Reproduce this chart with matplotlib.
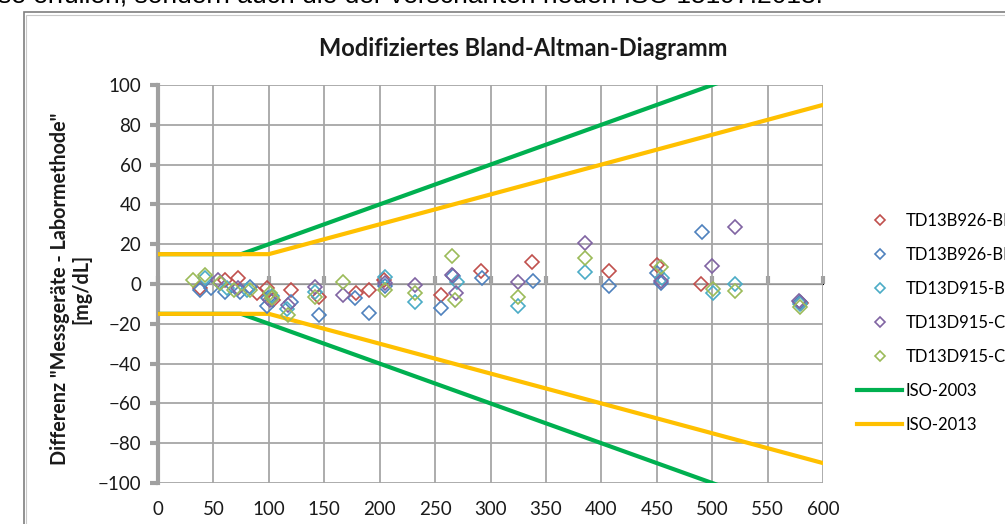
import matplotlib
matplotlib.use("Agg")
import matplotlib.pyplot as plt
from matplotlib.patches import Rectangle

plt.rcParams['font.family'] = ['Lato', 'DejaVu Sans']

# Messwerte: x = Labormethode [mg/dL], y = Differenz Messgerät - Labormethode
red_x = [38, 60, 72, 89, 98, 104, 120, 145, 179, 190, 204, 255, 291, 337, 407, 450, 490, 580]
red_y = [-2, 2, 3, -4.5, -2, -8, -3, -6.4, -4.5, -3, 2, -5.5, 6.5, 11, 6.5, 9.5, -0.2, -9.5]

blue_x = [38, 48, 60, 74, 83, 99, 98, 120, 145, 178, 190, 205, 255, 266, 292, 338, 407, 450, 454, 491, 579]
blue_y = [-3, -2, -4, -4, -1.5, -7, -11, -9, -15.6, -7, -14.7, -1, -12, 4, 3, 1.5, -0.8, 5.4, 0.3, 26, -9]

cyan_x = [42, 62, 80, 103, 116, 142, 205, 232, 270, 325, 385, 455, 501, 521, 579]
cyan_y = [3, -2, -3, -6, -12.5, -4, 3.7, -9, 1, -11, 6.2, 3, -4.7, 0, -10]

purple_x = [54, 72, 101, 117, 141.5, 167, 205, 232, 265, 269, 325, 385, 454, 500, 521, 578]
purple_y = [2, -2, -8, -10.5, -1.3, -5.5, 0.5, -0.5, 4.5, -4.6, 1.2, 20.8, 1.7, 9, 28.8, -8.5]

green_x = [32, 42, 56, 69, 83, 101, 103, 117, 141.5, 167, 205, 232, 265, 268, 325, 385, 454, 501, 521, 579]
green_y = [2, 4.5, 0.5, -3, -3, -4.5, -7, -15.5, -6.4, 1.2, -3, -4.5, 14, -8, -6.4, 12.9, 8.7, -2.5, -3.5, -11.4]

series = [
    ("TD13B926-BFG", red_x, red_y, "#C0504D"),
    ("TD13B926-BFE", blue_x, blue_y, "#4F81BD"),
    ("TD13D915-BFE", cyan_x, cyan_y, "#4BACC6"),
    ("TD13D915-CEG", purple_x, purple_y, "#8064A2"),
    ("TD13D915-CEE", green_x, green_y, "#9BBB59"),
]

# Grenzen
iso2003_x = [0, 75, 600]
iso2003_y = [15, 15, 120]
iso2013_x = [0, 100, 600]
iso2013_y = [15, 15, 90]

fig = plt.figure(figsize=(10.05, 5.24), dpi=100)

# Text vom Dokument oben (abgeschnitten) und Diagrammrahmen
fig.text(-0.002, 1 - 3 / 524, "se erfüllen, sondern auch die der verschärften neuen ISO 15197:2013.",
         fontsize=19, family='Liberation Sans', va='baseline', ha='left', color='black')
fig.patches.append(Rectangle((24 / 1005, -0.1), 1.1, 1.1 - 12 / 524, transform=fig.transFigure,
                             fill=False, edgecolor='#7F7F7F', linewidth=1.2))
fig.patches.append(Rectangle((26 / 1005, -0.1), 1.1, 1.1 - 14.5 / 524, transform=fig.transFigure,
                             fill=False, edgecolor='#C8C8C8', linewidth=0.8))

ax = fig.add_axes([158 / 1005, 1 - 483 / 524, 665 / 1005, 398 / 524])

for name, xs, ys, c in series:
    ax.plot(xs, ys, linestyle='none', marker='D', markersize=7.3, markerfacecolor='none',
            markeredgecolor=c, markeredgewidth=1.2, label=name, zorder=4)

ax.plot(iso2003_x, iso2003_y, color='#00B050', lw=3, label='ISO-2003', zorder=3)
ax.plot(iso2003_x, [-v for v in iso2003_y], color='#00B050', lw=3, zorder=3)
ax.plot(iso2013_x, iso2013_y, color='#FFC000', lw=3, label='ISO-2013', zorder=3)
ax.plot(iso2013_x, [-v for v in iso2013_y], color='#FFC000', lw=3, zorder=3)

ax.set_xlim(0, 600)
ax.set_ylim(-100, 100)
ax.set_xticks(range(0, 601, 50))
ax.set_yticks(range(-100, 101, 20))
ax.grid(True, color='#A6A6A6', linewidth=1.3, zorder=0)
ax.set_axisbelow(True)

for s in ['top', 'right', 'bottom']:
    ax.spines[s].set_visible(False)
ax.spines['left'].set_color('#A0A0A0')
ax.spines['left'].set_linewidth(3)
ax.tick_params(axis='y', direction='out', length=6, width=3, color='#A0A0A0',
               labelsize=13.5, labelcolor='#1A1A1A', pad=6)
ax.tick_params(axis='x', length=0, labelsize=13.5, labelcolor='#1A1A1A', pad=13)

# x-Achse bei y = 0
sec = ax.secondary_xaxis(0.5)
sec.set_xticks(range(0, 601, 50))
sec.tick_params(direction='out', length=6, width=3, color='#A0A0A0', labelbottom=False)
sec.spines['bottom'].set_color('#A0A0A0')
sec.spines['bottom'].set_linewidth(3)
sec.xaxis.set_ticklabels([])

fig.text(523 / 1005, 1 - 48 / 524, "Modifiziertes Bland-Altman-Diagramm", fontsize=17,
         fontweight='bold', color='#1A1A1A', ha='center', va='center')
fig.text(71 / 1005, 1 - 289 / 524, 'Differenz "Messgeräte - Labormethode"\n[mg/dL]',
         rotation=90, ha='center', va='center', fontsize=14.2, fontweight='bold',
         color='#1A1A1A', linespacing=1.1)

ax.legend(loc='upper left', bbox_to_anchor=(857 / 1005, 1 - 213 / 524),
          bbox_transform=fig.transFigure, frameon=False, fontsize=12,
          handlelength=2.7, handletextpad=0.2, labelspacing=1.08, markerscale=0.68,
          borderaxespad=0, borderpad=0)

fig.savefig("out.png", dpi=100)
